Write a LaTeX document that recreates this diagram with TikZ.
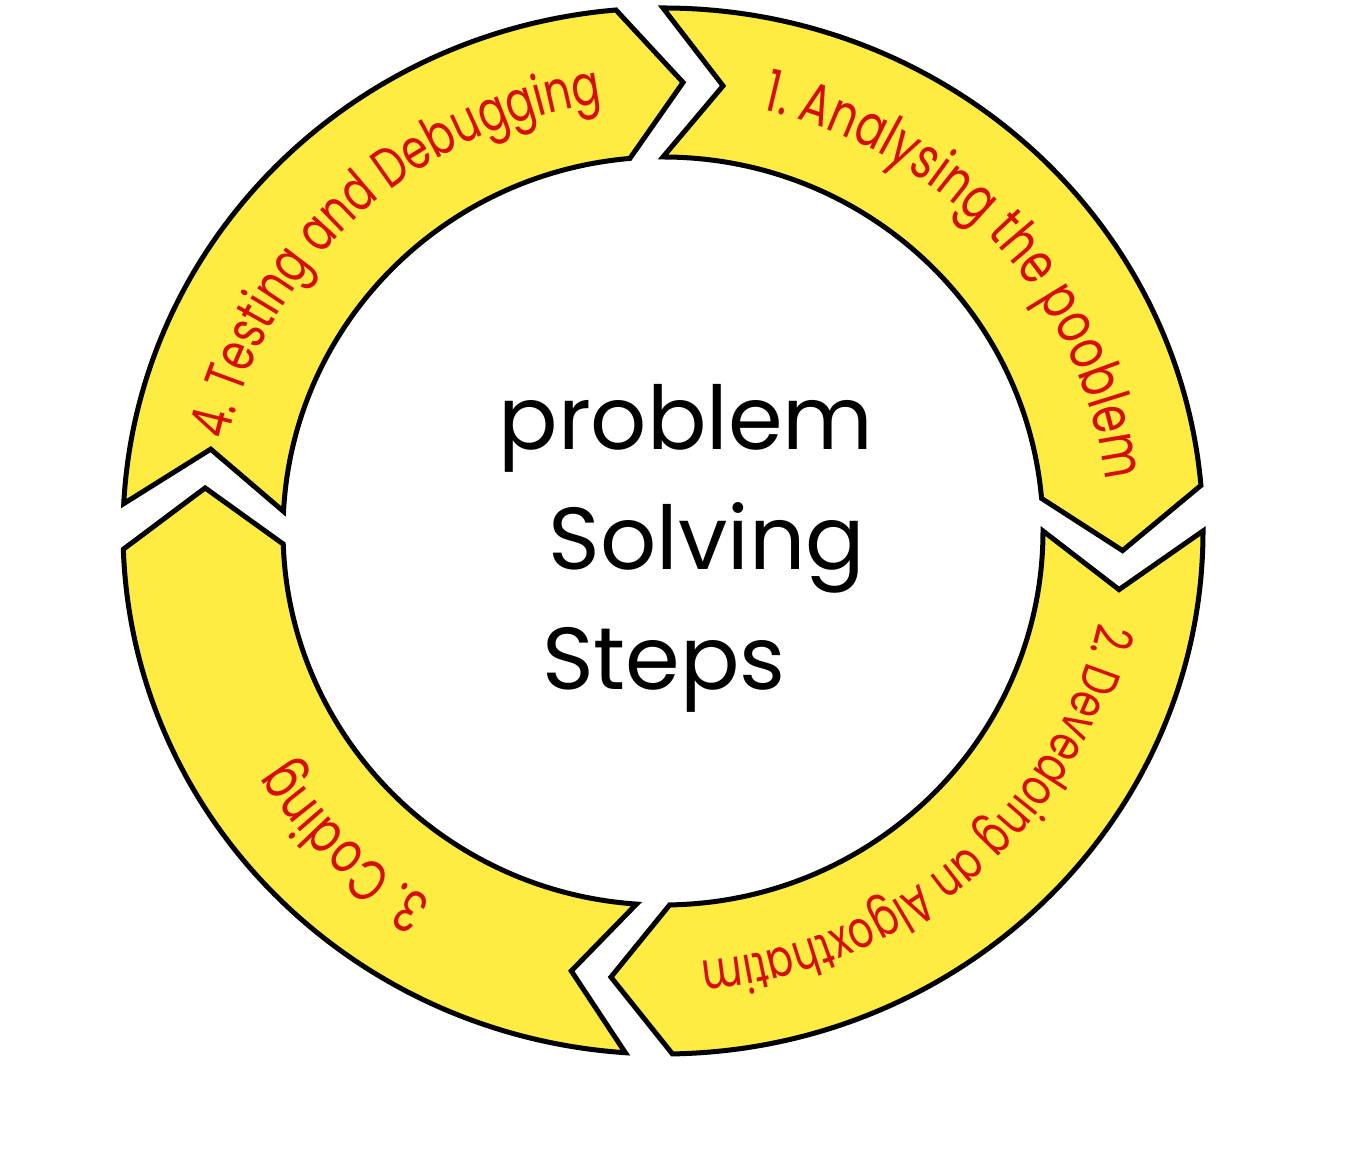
\documentclass[tikz,border=0pt]{standalone}
\usepackage{fontspec}
\setmainfont{Poppins}
\newfontfamily\handfont{Poppins}[FakeStretch=0.75]
\usetikzlibrary{decorations.text}
\definecolor{ringyellow}{RGB}{255,236,66}
\definecolor{txtred}{RGB}{215,12,12}
\tikzset{
  segstyle/.style={draw=black, fill=ringyellow, line width=5pt, line join=miter},
  centertext/.style={anchor=base, inner sep=0pt, font=\fontsize{88}{100}\selectfont, text=black}
}
\newcommand\ringseg[2]{%
  \draw[segstyle] (#1:540 and 523) arc[start angle=#1, end angle=#2, x radius=540, y radius=523]
    -- ({#2-7.5}:460 and 449) -- (#2:380 and 374)
    arc[start angle=#2, end angle=#1, x radius=380, y radius=374]
    -- ({#1-7.5}:460 and 449) -- cycle;}
\newcommand\ringtext[3]{%
  \path[decorate, decoration={text along path, text={|#2|#3}, text align=center}]
    ({#1+45}:445 and 432) arc[start angle={#1+45}, end angle={#1-45}, x radius=445, y radius=432];}
\newcommand\fontA{\handfont\fontsize{58}{60}\selectfont\color{txtred}}
\newcommand\fontB{\handfont\fontsize{52}{55}\selectfont\color{txtred}}
\newcommand\fontC{\handfont\fontsize{58}{60}\selectfont\color{txtred}}
\newcommand\fontD{\handfont\fontsize{56}{58}\selectfont\color{txtred}}
\begin{document}
\begin{tikzpicture}[x=1pt,y=1pt]
\useasboundingbox (0,0) rectangle (1360,1157);
\fill[white] (0,0) rectangle (1360,1157);
\begin{scope}[shift={(663,626)}]
  \ringseg{90}{5}
  \ringseg{0}{-89}
  \ringseg{-94}{-178}
  \ringseg{177}{95}
  \ringtext{41.7}{\fontA}{1. Analysing the pooblem}
  \ringtext{-48.5}{\fontB}{2. Devedoing an Algoxthatim}
  \ringtext{-135}{\fontC}{3. Coding}
  \ringtext{133}{\fontD}{4. Testing and Debugging}
\end{scope}
\node[centertext] (t1) at (686,707) {problem};
\node[centertext] (t2) at (707,587) {Solving};
\node[centertext] (t3) at (664,467) {Steps};
\end{tikzpicture}
\end{document}
